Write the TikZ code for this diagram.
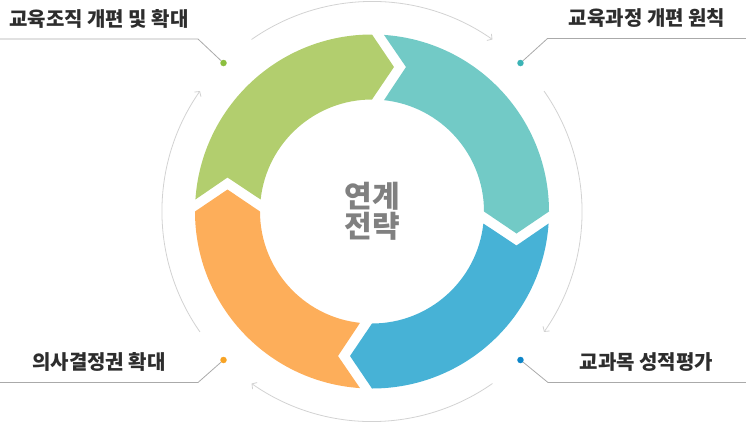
\documentclass[tikz,border=0pt]{standalone}
\usepackage{fontspec}
\newfontfamily\krfont{Noto Sans CJK KR}
\usetikzlibrary{arrows.meta}

\definecolor{pieceGreen}{RGB}{178,206,110}
\definecolor{pieceTeal}{RGB}{114,202,198}
\definecolor{pieceBlue}{RGB}{71,178,214}
\definecolor{pieceOrange}{RGB}{253,174,90}
\definecolor{dotGreen}{RGB}{140,191,63}
\definecolor{dotTeal}{RGB}{59,179,181}
\definecolor{dotBlue}{RGB}{13,133,200}
\definecolor{dotOrange}{RGB}{247,163,37}
\definecolor{textDark}{RGB}{45,45,45}
\definecolor{hubGray}{RGB}{128,128,128}
\definecolor{leaderGray}{RGB}{170,170,170}
\definecolor{arcGray}{RGB}{210,210,210}

% one quarter of the ring, ending at 90 deg before rotation
\newcommand{\ringpiece}[2]{%
  \fill[#2, rotate=#1] (90:177) -- (22,144.5) -- (90:112)
    arc[start angle=90, end angle=173.85, radius=112]
    -- (-144.5,34) -- (176.11:177)
    arc[start angle=176.11, end angle=90, radius=177] -- cycle;}

\begin{document}
\begin{tikzpicture}[
  x=1pt, y=1pt,
  label/.style={font=\krfont\bfseries\fontsize{20}{22}\selectfont, text=textDark, inner sep=0pt},
  hub/.style={font=\krfont\bfseries\fontsize{30}{30}\selectfont, text=hubGray, align=center, inner sep=0pt},
  dot/.style={circle, inner sep=0pt, minimum size=6.5pt},
  leader/.style={draw=leaderGray, line width=0.8pt},
  cycle arrow/.style={draw=arcGray, line width=0.8pt, -{Straight Barb[length=3.5pt,width=8pt]}}
]
\useasboundingbox (-372,-212.5) rectangle (374,211.5);

% ring
\ringpiece{0}{pieceGreen}
\ringpiece{-90}{pieceTeal}
\ringpiece{-180}{pieceBlue}
\ringpiece{-270}{pieceOrange}

\node[hub] (hubText) at (0,0) {연계\\전략};

% outer arrows
\foreach \a in {90,0,-90,-180}
  \draw[cycle arrow] ({\a+35}:210) arc[start angle={\a+35}, end angle={\a-35}, radius=210];

% labels
\node[label] (orgLabel) at (-273,193) {교육조직 개편 및 확대};
\node[label] (curLabel) at (275,193) {교육과정 개편 원칙};
\node[label] (decLabel) at (-273,-150.5) {의사결정권 확대};
\node[label] (evalLabel) at (274.5,-150.5) {교과목 성적평가};

\coordinate (orgBend) at (-174,172.5);
\coordinate (orgEnd) at (-372,172.5);
\coordinate (curBend) at (175.5,173);
\coordinate (curEnd) at (374,173);
\coordinate (decBend) at (-174,-171);
\coordinate (decEnd) at (-372,-171);
\coordinate (evalBend) at (176,-171);
\coordinate (evalEnd) at (374,-171);

\node[dot, fill=dotGreen] (orgDot) at (135:210) {};
\node[dot, fill=dotTeal] (curDot) at (45:210) {};
\node[dot, fill=dotOrange] (decDot) at (225:210) {};
\node[dot, fill=dotBlue] (evalDot) at (-45:210) {};

\draw[leader] (orgDot) -- (orgBend) -- (orgEnd);
\draw[leader] (curDot) -- (curBend) -- (curEnd);
\draw[leader] (decDot) -- (decBend) -- (decEnd);
\draw[leader] (evalDot) -- (evalBend) -- (evalEnd);
\end{tikzpicture}
\end{document}
